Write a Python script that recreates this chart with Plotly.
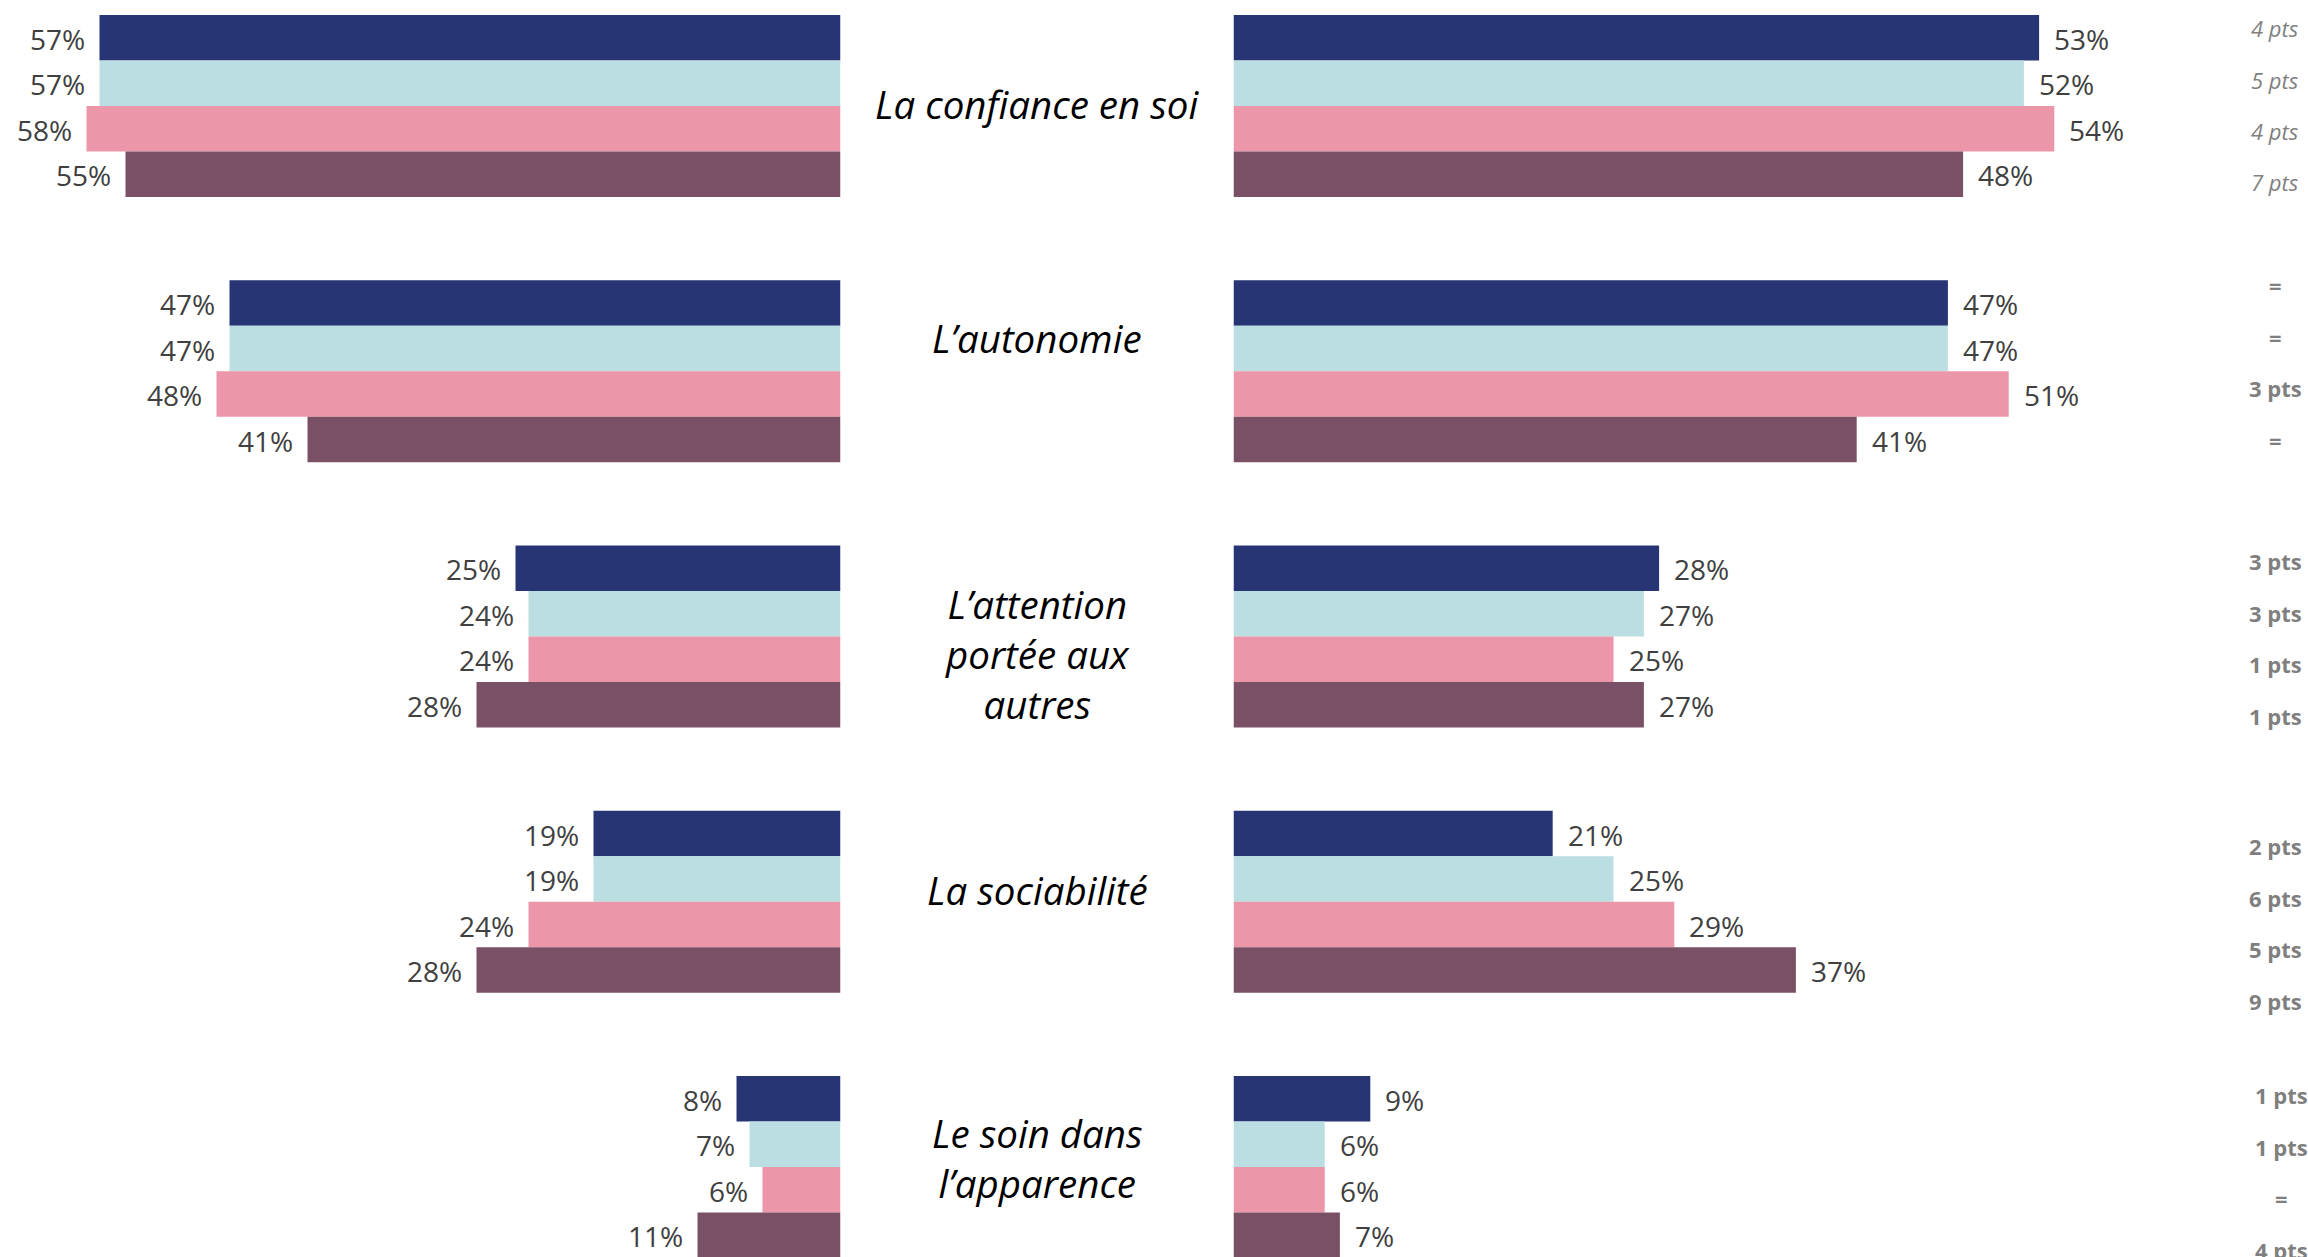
import plotly.graph_objects as go

# Dimensions (one row of four bars per dimension)
categories = [
    "La confiance en soi",
    "L’autonomie",
    "L’attention<br>portée aux<br>autres",
    "La sociabilité",
    "Le soin dans<br>l’apparence",
]

# Left panel values (%), one list per series
left_s1 = [57, 47, 25, 19, 8]
left_s2 = [57, 47, 24, 19, 7]
left_s3 = [58, 48, 24, 24, 6]
left_s4 = [55, 41, 28, 28, 11]

# Right panel values (%)
right_s1 = [53, 47, 28, 21, 9]
right_s2 = [52, 47, 27, 25, 6]
right_s3 = [54, 51, 25, 29, 6]
right_s4 = [48, 41, 27, 37, 7]

# Evolution labels shown in the right margin
delta_s1 = ["4 pts", "=", "3 pts", "2 pts", "1 pts"]
delta_s2 = ["5 pts", "=", "3 pts", "6 pts", "1 pts"]
delta_s3 = ["4 pts", "3 pts", "1 pts", "5 pts", "="]
delta_s4 = ["7 pts", "=", "1 pts", "9 pts", "4 pts"]

# ---- layout / style ----
W, H = 2308, 1257
COLORS = ["#273574", "#badee2", "#ec96a9", "#7a5066"]
PITCH = 5.83            # distance between dimension groups, in bar heights
BAR_PX = 45.5           # bar height in pixels
TOP_PX = 15             # top of the first bar
LEFT_ZERO_PX = 840.5    # x pixel of 0% on the left panel
RIGHT_ZERO_PX = 1233.5  # x pixel of 0% on the right panel
LEFT_SCALE = 13.0       # px per percent, left
RIGHT_SCALE = 15.2      # px per percent, right

FONT = "Open Sans"
LABEL_COLOR = "#404040"
DELTA_COLOR = "#7f7f7f"

# vertical placement of the text blocks (pixels from the top)
cat_label_px = [104, 338, 654, 890, 1158]
delta_first_px = [28, 285, 561, 846, 1095]
DELTA_STEP_PX = 51.5
delta_center_x_px = [2275, 2275, 2275, 2275, 2281]

left_series = [left_s1, left_s2, left_s3, left_s4]
right_series = [right_s1, right_s2, right_s3, right_s4]
delta_series = [delta_s1, delta_s2, delta_s3, delta_s4]

y_top = -0.5 - TOP_PX / BAR_PX
y_bottom = y_top + H / BAR_PX

fig = go.Figure()
annotations = []

for s in range(4):
    ys = [g * PITCH + s for g in range(len(categories))]
    fig.add_trace(go.Bar(
        x=left_series[s], y=ys, orientation="h", width=1,
        marker=dict(color=COLORS[s], line=dict(width=0)),
        xaxis="x", yaxis="y", hoverinfo="skip",
    ))
    fig.add_trace(go.Bar(
        x=right_series[s], y=ys, orientation="h", width=1,
        marker=dict(color=COLORS[s], line=dict(width=0)),
        xaxis="x2", yaxis="y", hoverinfo="skip",
    ))
    for g, yv in enumerate(ys):
        annotations.append(dict(
            x=left_series[s][g], y=yv, xref="x", yref="y",
            text=f"{left_series[s][g]}%", showarrow=False,
            xanchor="right", yanchor="middle", xshift=-13, yshift=-1,
            font=dict(family=FONT, size=28, color=LABEL_COLOR),
        ))
        annotations.append(dict(
            x=right_series[s][g], y=yv, xref="x2", yref="y",
            text=f"{right_series[s][g]}%", showarrow=False,
            xanchor="left", yanchor="middle", xshift=13, yshift=-1,
            font=dict(family=FONT, size=28, color=LABEL_COLOR),
        ))

# dimension names between the two panels
for g, name in enumerate(categories):
    annotations.append(dict(
        x=((LEFT_ZERO_PX + RIGHT_ZERO_PX) / 2) / W, y=1 - cat_label_px[g] / H,
        xref="paper", yref="paper", text=f"<i>{name}</i>", showarrow=False,
        xanchor="center", yanchor="middle", align="center",
        font=dict(family=FONT, size=38.5, color="#000000"),
    ))

# evolution labels in the right margin
for g in range(len(categories)):
    for s in range(4):
        txt = delta_series[s][g]
        txt = f"<i>{txt}</i>" if g == 0 else f"<b>{txt}</b>"
        annotations.append(dict(
            x=delta_center_x_px[g] / W,
            y=1 - (delta_first_px[g] + s * DELTA_STEP_PX) / H,
            xref="paper", yref="paper", text=txt, showarrow=False,
            xanchor="center", yanchor="middle",
            font=dict(family=FONT, size=22, color=DELTA_COLOR),
        ))

fig.update_layout(
    width=W, height=H,
    margin=dict(l=0, r=0, t=0, b=0),
    paper_bgcolor="white", plot_bgcolor="white",
    showlegend=False, barmode="overlay",
    xaxis=dict(domain=[0, LEFT_ZERO_PX / W],
               range=[LEFT_ZERO_PX / LEFT_SCALE, 0],
               visible=False, fixedrange=True),
    xaxis2=dict(domain=[RIGHT_ZERO_PX / W, 1],
                range=[0, (W - RIGHT_ZERO_PX) / RIGHT_SCALE],
                visible=False, anchor="y", fixedrange=True),
    yaxis=dict(domain=[0, 1], range=[y_bottom, y_top],
               visible=False, fixedrange=True),
    annotations=annotations,
)

fig.write_html("out.html", config={"displayModeBar": False})
